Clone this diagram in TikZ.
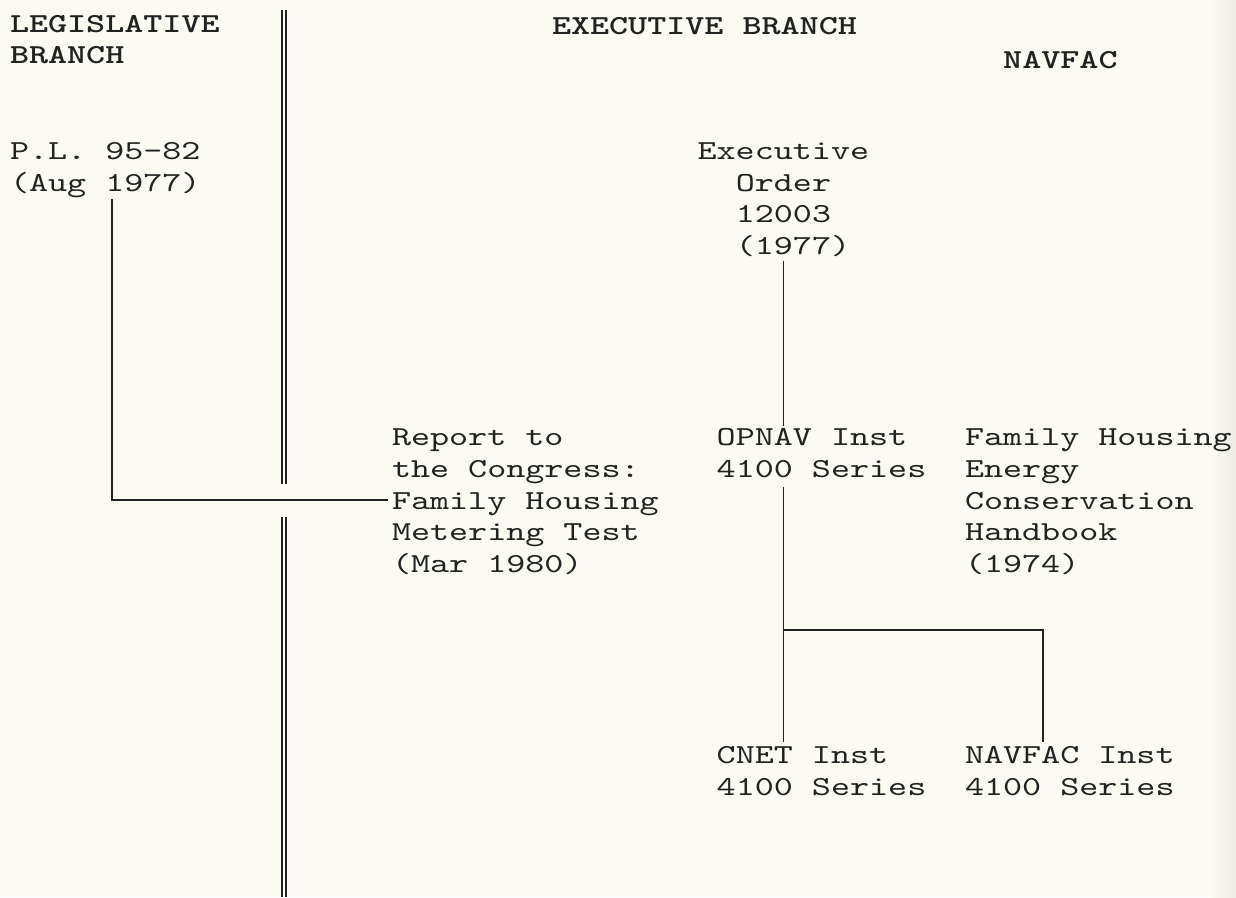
\documentclass[tikz,border=0pt]{standalone}
\usepackage{fontspec}
\newfontfamily\tw[Extension=.otf,UprightFont=lmmono10-regular,BoldFont=lmmonolt10-bold,FakeStretch=1.32]{lmmono10-regular}
\definecolor{paper}{RGB}{251,251,243}
\definecolor{ink}{RGB}{34,34,34}
\newcommand\colx[1]{(10+19.1*(#1))}
\newcommand\rowy[1]{(32+31.8*(#1))}
\tikzset{
  txt/.style={anchor=base west, inner sep=0pt, outer sep=0pt, text=ink,
    font=\tw\fontsize{27.5}{31.8}\selectfont},
  hdr/.style={txt, font=\tw\bfseries\fontsize{27.5}{31.8}\selectfont},
  conn/.style={draw=ink, line width=1.4pt},
  rulel/.style={draw=ink, line width=1.3pt}
}
\begin{document}
\begin{tikzpicture}[x=1pt,y=-1pt]
\useasboundingbox (0,0) rectangle (1236,897);
\fill[paper] (0,0) rectangle (1236,897);
\shade[left color=paper, right color=paper!88!gray] (1212,0) rectangle (1236,897);

% headers
\node[hdr] (leg1) at ({\colx{0}},{\rowy{0}}) {LEGISLATIVE};
\node[hdr] (leg2) at ({\colx{0}},{\rowy{1}}) {BRANCH};
\node[hdr] (exb) at (552,{\rowy{0}+2}) {EXECUTIVE BRANCH};
\node[hdr] (nav) at ({\colx{52}},68) {NAVFAC};

% separator
\draw[rulel] (282,10) -- (282,484);
\draw[rulel] (286,10) -- (286,484);
\draw[rulel] (282,517) -- (282,897);
\draw[rulel] (286,517) -- (286,897);

% P.L.
\node[txt] (pl1) at ({\colx{0}},{\rowy{4}}) {P.L. 95-82};
\node[txt] (pl2) at ({\colx{0}},{\rowy{5}}) {(Aug 1977)};

% Executive Order
\node[txt] (eo1) at ({\colx{36}},{\rowy{4}}) {Executive};
\node[txt] (eo2) at ({\colx{38}},{\rowy{5}}) {Order};
\node[txt] (eo3) at ({\colx{38}},{\rowy{6}}) {12003};
\node[txt] (eo4) at ({\colx{38}},{\rowy{7}}) {(1977)};

% Report
\node[txt] (rep1) at ({\colx{20}},{\rowy{13}}) {Report to};
\node[txt] (rep2) at ({\colx{20}},{\rowy{14}}) {the Congress:};
\node[txt] (rep3) at ({\colx{20}},{\rowy{15}}) {Family Housing};
\node[txt] (rep4) at ({\colx{20}},{\rowy{16}}) {Metering Test};
\node[txt] (rep5) at ({\colx{20}},{\rowy{17}}) {(Mar 1980)};

% OPNAV
\node[txt] (op1) at ({\colx{37}},{\rowy{13}}) {OPNAV Inst};
\node[txt] (op2) at ({\colx{37}},{\rowy{14}}) {4100 Series};

% Handbook
\node[txt] (fh1) at ({\colx{50}},{\rowy{13}}) {Family Housing};
\node[txt] (fh2) at ({\colx{50}},{\rowy{14}}) {Energy};
\node[txt] (fh3) at ({\colx{50}},{\rowy{15}}) {Conservation};
\node[txt] (fh4) at ({\colx{50}},{\rowy{16}}) {Handbook};
\node[txt] (fh5) at ({\colx{50}},{\rowy{17}}) {(1974)};

% CNET / NAVFAC Inst
\node[txt] (cn1) at ({\colx{37}},{\rowy{23}}) {CNET Inst};
\node[txt] (cn2) at ({\colx{37}},{\rowy{24}}) {4100 Series};
\node[txt] (nf1) at ({\colx{50}},{\rowy{23}}) {NAVFAC Inst};
\node[txt] (nf2) at ({\colx{50}},{\rowy{24}}) {4100 Series};

% connectors
\coordinate (plc) at (112,500);
\draw[conn] ([yshift=-2pt]pl2.south -| plc) -- (plc) -- ([xshift=-4pt]rep3.base west |- plc);

\coordinate (opx) at (783.5,0);
\coordinate (j) at (783.5,630);
\coordinate (jr) at (1043,630);
\draw[conn] ([yshift=-4pt]eo4.south -| opx) -- ([yshift=2pt]op1.north -| opx);
\draw[conn] ([yshift=-10pt]op2.base -| j) -- (j) -- ([yshift=4pt]cn1.north -| j);
\draw[conn] (j) -- (jr) -- ([yshift=4pt]nf1.north -| jr);
\end{tikzpicture}
\end{document}
